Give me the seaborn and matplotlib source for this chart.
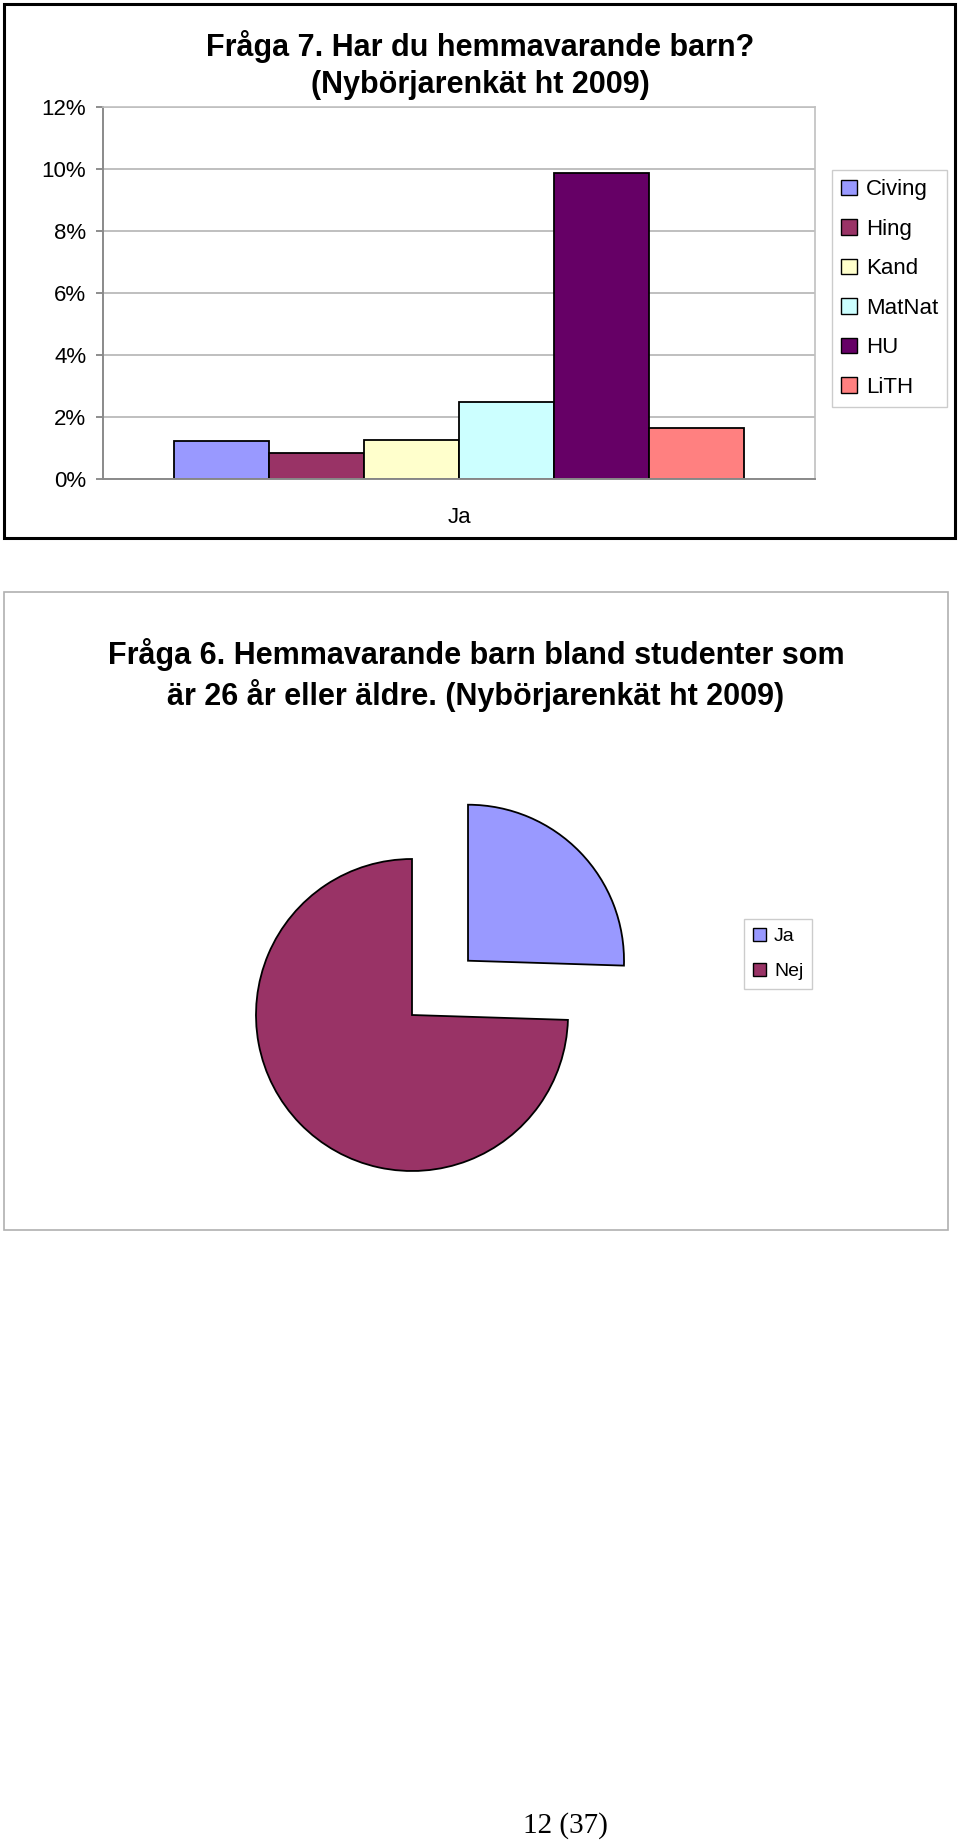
import matplotlib
matplotlib.use("Agg")
import matplotlib.pyplot as plt
from matplotlib.patches import Rectangle, Patch
import seaborn as sns
import pandas as pd

# ---------------- data ----------------
bar_category = ["Ja"]
bar_series = ["Civing", "Hing", "Kand", "MatNat", "HU", "LiTH"]
bar_values = [1.21, 0.84, 1.26, 2.47, 9.87, 1.63]  # percent
bar_colors = ["#9999FF", "#993366", "#FFFFCC", "#CCFFFF", "#660066", "#FF8080"]
y_ticks = [0, 2, 4, 6, 8, 10, 12]
y_ticklabels = ["0%", "2%", "4%", "6%", "8%", "10%", "12%"]

pie_labels = ["Ja", "Nej"]
pie_values = [25.5, 74.5]
pie_colors = ["#9999FF", "#993366"]

title_bar = "Fråga 7. Har du hemmavarande barn?\n(Nybörjarenkät ht 2009)"
title_pie = ("Fråga 6. Hemmavarande barn bland studenter som\n"
             "är 26 år eller äldre. (Nybörjarenkät ht 2009)")
page_label = "12 (37)"

# ---------------- style ----------------
sns.set_theme(style="white")
plt.rcParams["font.family"] = ["Liberation Sans", "DejaVu Sans"]
plt.rcParams["text.color"] = "black"
plt.rcParams["xtick.color"] = "black"
plt.rcParams["ytick.color"] = "black"
plt.rcParams["xtick.labelcolor"] = "black"
plt.rcParams["ytick.labelcolor"] = "black"

W, H = 960, 1843
fig = plt.figure(figsize=(W / 100, H / 100), dpi=100)
fig.patch.set_facecolor("white")

def fx(px):
    return px / W

def fy(py):
    return 1 - py / H

# outer boxes
fig.add_artist(Rectangle((fx(4), fy(538)), fx(951), 534 / H, transform=fig.transFigure,
                         fill=False, edgecolor="black", linewidth=2.2))
fig.add_artist(Rectangle((fx(4), fy(1230)), fx(944), 638 / H, transform=fig.transFigure,
                         fill=False, edgecolor="#b0b0b0", linewidth=1.2))

# ---------------- bar chart ----------------
ax = fig.add_axes([fx(103), fy(479), fx(712), 372 / H])
df = pd.DataFrame({
    "cat": bar_category * len(bar_series),
    "series": bar_series,
    "val": bar_values,
})
sns.barplot(data=df, x="cat", y="val", hue="series", hue_order=bar_series,
            palette=bar_colors, edgecolor="black", linewidth=1.3, width=0.8,
            saturation=1, legend=False, ax=ax)
ax.set_ylim(0, 12)
ax.set_xlim(-0.5, 0.5)
ax.set_yticks(y_ticks)
ax.set_yticklabels(y_ticklabels, fontsize=16)
ax.set_xticks([0])
ax.set_xticklabels(bar_category, fontsize=16)
ax.tick_params(axis="x", length=0, pad=20)
ax.tick_params(axis="y", length=5, color="#808080", direction="out", pad=7, left=True)
ax.set_xlabel("")
ax.set_ylabel("")
ax.grid(axis="y", color="#b4b4b4", linewidth=1.2)
ax.set_axisbelow(True)
for s in ["top", "right"]:
    ax.spines[s].set_color("#c0c0c0")
    ax.spines[s].set_linewidth(1.2)
for s in ["left", "bottom"]:
    ax.spines[s].set_color("#8a8a8a")
    ax.spines[s].set_linewidth(1.4)

handles = [Patch(facecolor=c, edgecolor="black", linewidth=1) for c in bar_colors]
leg = fig.legend(handles, bar_series, loc="upper left",
                 bbox_to_anchor=(fx(832), fy(170)), fontsize=16, frameon=True,
                 fancybox=False, edgecolor="#c0c0c0", handlelength=0.7,
                 handleheight=0.7, handletextpad=0.4, labelspacing=0.83,
                 borderpad=0.42, borderaxespad=0)
leg.get_frame().set_linewidth(1)

fig.text(fx(480), fy(65), title_bar, ha="center", va="center", fontsize=22,
         fontweight="bold", linespacing=1.33)

# ---------------- pie chart ----------------
L = 1.6
R = 156
size = 2 * L * R
cx, cy = 412, 1015
pax = fig.add_axes([fx(cx - size / 2), fy(cy + size / 2), fx(size), size / H])
pax.pie(pie_values, colors=pie_colors, startangle=90, counterclock=False,
        explode=[0.5, 0], wedgeprops=dict(edgecolor="black", linewidth=1.3))
pax.set_xlim(-L, L)
pax.set_ylim(-L, L)
pax.set_aspect("equal")
pax.axis("off")

phandles = [Patch(facecolor=c, edgecolor="black", linewidth=1) for c in pie_colors]
pleg = fig.legend(phandles, pie_labels, loc="upper left",
                  bbox_to_anchor=(fx(744), fy(919)), fontsize=14, frameon=True,
                  fancybox=False, edgecolor="#c0c0c0", handlelength=0.7,
                  handleheight=0.7, handletextpad=0.4, labelspacing=0.9,
                  borderpad=0.45, borderaxespad=0)
pleg.get_frame().set_linewidth(1)

fig.text(fx(476), fy(675), title_pie, ha="center", va="center", fontsize=22,
         fontweight="bold", linespacing=1.3)

fig.text(fx(565), fy(1826), page_label, ha="center", va="center", fontsize=21,
         family=["Liberation Serif", "DejaVu Serif"])

fig.savefig("out.png", dpi=100, facecolor="white")
